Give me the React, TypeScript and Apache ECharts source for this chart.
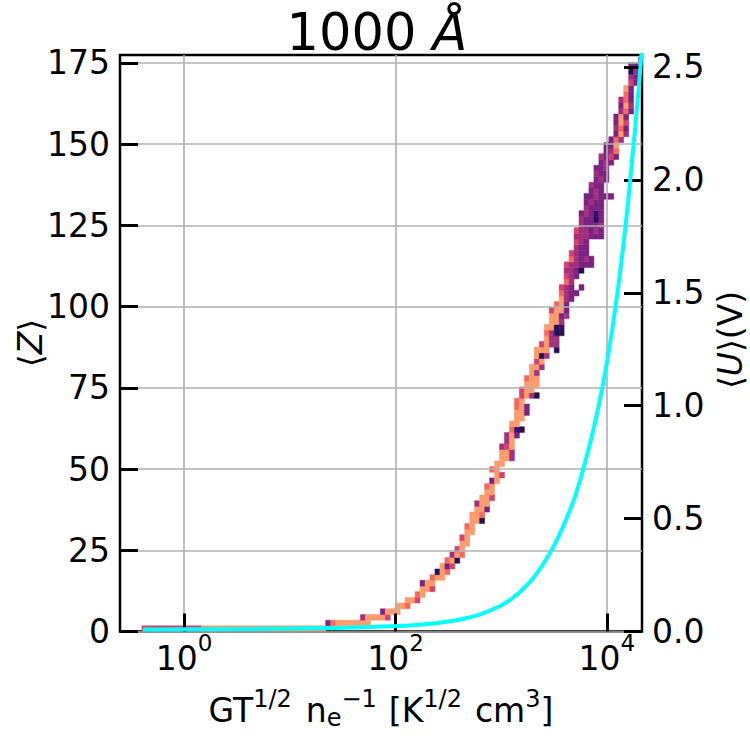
import React, { useEffect, useRef } from 'react';
import * as echarts from 'echarts';

const FONT = 'DejaVu Sans';

const TITLE_NUMBER = '1000 ';
const TITLE_UNIT = 'Å';

// 2-D histogram binning (x binned in log10 space)
const LOGX_MIN = -0.4;
const LOGX_BIN = 0.047;
const Z_BIN = 1.75;

// axis extents (x in log10 units)
const LOGX_RANGE = [-0.607, 4.332];
const Z_RANGE = [0, 177.4];
const U_RANGE = [0, 2.553];

const X_TICKS = [0, 2, 4];
const Z_TICKS = [0, 25, 50, 75, 100, 125, 150, 175];
const U_TICKS = [0, 0.5, 1, 1.5, 2, 2.5];

// magma colour ramp for bin counts 1..9
const MAGMA = ['#0d0829', '#231151', '#3b0f70', '#7a2382', '#a3307e', '#d3436e', '#f4695c', '#fc9b6b', '#feb57c'];

// histogram rows: [z bin, first log-x bin, counts per consecutive bin (0 = empty)]
const HIST_ROWS: number[][] = [
  [0, 0, 6, 6, 6, 6, 6, 6, 6, 6, 6, 6, 6, 6, 8, 8, 8, 8, 8, 8, 8, 8, 8, 8, 8, 8, 8, 8, 8, 8, 8, 8, 8, 8, 8, 8, 8, 8, 8],
  [1, 37, 4, 7, 8, 8, 8, 8, 8, 8, 8],
  [2, 44, 5, 8, 8, 8, 8, 6],
  [3, 48, 4, 8, 8, 8],
  [4, 51, 8, 8, 7],
  [5, 53, 8, 8, 6],
  [6, 55, 7, 8],
  [7, 56, 8, 8, 6],
  [8, 56, 4, 8, 8],
  [9, 58, 7, 8, 8],
  [10, 59, 2, 8, 7],
  [11, 60, 8, 4, 6],
  [12, 61, 7, 8, 2],
  [13, 62, 5, 8, 7],
  [14, 63, 6, 8],
  [15, 64, 8, 8],
  [16, 64, 6, 8],
  [17, 65, 8, 8],
  [18, 65, 7, 8],
  [19, 66, 8, 8, 2],
  [20, 66, 8, 8, 7],
  [21, 67, 8, 8, 4],
  [22, 67, 5, 8, 8],
  [23, 68, 8, 8, 6],
  [24, 69, 8, 8],
  [25, 69, 7, 8],
  [26, 70, 4, 8],
  [27, 71, 8, 6],
  [28, 70, 7, 8],
  [29, 71, 8, 8],
  [30, 72, 8, 8, 5],
  [31, 72, 8, 8, 5],
  [32, 72, 5, 6, 8],
  [33, 73, 5, 8],
  [34, 73, 5, 8, 4],
  [35, 74, 7, 3, 2],
  [36, 74, 8, 8],
  [37, 75, 8, 8],
  [38, 75, 8, 8, 4],
  [39, 75, 7, 8, 4],
  [40, 75, 7, 8],
  [41, 76, 6, 8, 5, 2],
  [42, 76, 6, 8, 8],
  [43, 77, 8, 8, 8],
  [44, 77, 7, 8, 8],
  [45, 78, 8, 5],
  [46, 78, 8, 8, 5],
  [47, 79, 6, 8],
  [48, 79, 8, 2, 5],
  [49, 79, 8, 8, 8, 0, 2],
  [50, 80, 6, 8, 5, 5],
  [51, 81, 8, 5, 5],
  [52, 81, 7, 5, 2, 2],
  [53, 81, 8, 8, 2, 3],
  [54, 82, 8, 8, 5],
  [55, 82, 8, 8, 4, 5],
  [56, 82, 6, 8, 8, 4],
  [57, 83, 7, 8, 4],
  [58, 84, 8, 5, 4],
  [59, 84, 7, 5, 4, 4],
  [60, 84, 6, 5, 4, 0, 4],
  [61, 85, 7, 5],
  [62, 85, 6, 5, 4],
  [63, 85, 5, 5, 4, 2],
  [64, 85, 6, 5, 5, 4, 4, 4],
  [65, 86, 7, 5, 4, 5, 4],
  [66, 86, 6, 5, 4, 4],
  [67, 87, 5, 4, 4],
  [68, 87, 6, 5, 4],
  [69, 87, 5, 5, 5, 4, 4, 4],
  [70, 87, 6, 5, 5, 4, 5, 4],
  [71, 88, 5, 4, 4, 4, 5],
  [72, 88, 5, 4, 4, 2, 4],
  [73, 88, 4, 5, 4, 3, 4],
  [74, 89, 5, 4, 4, 4],
  [75, 89, 4, 5, 4, 4],
  [76, 89, 4, 4, 5, 4, 4, 4],
  [77, 90, 4, 5, 4],
  [78, 90, 5, 4, 4],
  [79, 91, 4, 5, 4],
  [80, 91, 5, 4, 4],
  [81, 91, 4, 4, 5],
  [82, 92, 4, 5, 4],
  [83, 92, 5, 4, 6, 4],
  [84, 93, 4, 5, 7],
  [85, 93, 4, 4, 8],
  [86, 94, 4, 7, 5],
  [87, 95, 4, 8, 5],
  [88, 95, 5, 7, 4],
  [89, 95, 4, 8, 6],
  [90, 95, 4, 8, 4],
  [91, 96, 5, 7, 4],
  [92, 96, 4, 8, 5],
  [93, 96, 5, 7, 4],
  [94, 97, 7, 4],
  [95, 97, 8, 4],
  [96, 98, 6, 4],
  [97, 98, 5, 4],
  [98, 98, 2, 5],
  [99, 98, 4, 4],
  [100, 100, 4],
];

// mean potential <U> (V) against log10 of GT^1/2/ne
const U_LOGX = [-0.39, 0.5, 1.0, 1.5, 2.0, 2.2, 2.4, 2.6, 2.8, 3.0, 3.1, 3.2, 3.3, 3.4, 3.5, 3.6, 3.7, 3.8, 3.9, 4.0, 4.1, 4.2, 4.3, 4.35];
const U_VALUES = [0.009, 0.011, 0.013, 0.017, 0.024, 0.029, 0.038, 0.052, 0.076, 0.115, 0.145, 0.185, 0.235, 0.3, 0.38, 0.48, 0.6, 0.76, 0.95, 1.19, 1.5, 1.9, 2.4, 2.7];

export default function App() {
  const ref = useRef<HTMLDivElement>(null);

  useEffect(() => {
    const chart = echarts.init(ref.current!, null, { renderer: 'svg' });

    const cells: number[][] = [];
    HIST_ROWS.forEach(([j, i0, ...counts]) => {
      counts.forEach((c, k) => {
        if (c > 0) {
          const i = i0 + k;
          cells.push([LOGX_MIN + i * LOGX_BIN, LOGX_MIN + (i + 1) * LOGX_BIN, j * Z_BIN, (j + 1) * Z_BIN, c]);
        }
      });
    });

    const textBase = { fontFamily: FONT, color: '#000' };
    const tickStyle = { show: true, inside: true, length: 18, lineStyle: { color: '#000', width: 3 } };
    const gridLine = { show: true, lineStyle: { color: '#b0b0b0', width: 1.6 } };

    const option: any = {
      animation: false,
      backgroundColor: '#fff',
      grid: {
        left: 120,
        right: 108,
        top: 55,
        bottom: 118.5,
        show: true,
        borderColor: '#000',
        borderWidth: 2.5,
        outerBoundsMode: 'none',
      },
      visualMap: {
        show: false,
        type: 'continuous',
        seriesIndex: 0,
        dimension: 4,
        min: 1,
        max: 9,
        inRange: { color: MAGMA },
      },
      xAxis: {
        type: 'value',
        min: LOGX_RANGE[0],
        max: LOGX_RANGE[1],
        z: 5,
        axisLine: { show: false, onZero: false },
        axisTick: { ...tickStyle, customValues: X_TICKS },
        axisLabel: {
          customValues: X_TICKS,
          margin: 0,
          formatter: (v: number) => `{b|10}{s|${v}}`,
          rich: {
            b: { ...textBase, fontSize: 33 },
            s: { ...textBase, fontSize: 23, padding: [0, 0, 30, 0] },
          },
        },
        splitLine: gridLine,
      },
      yAxis: [
        {
          type: 'value',
          position: 'left',
          min: Z_RANGE[0],
          max: Z_RANGE[1],
          z: 5,
          axisLine: { show: false, onZero: false },
          axisTick: { ...tickStyle, customValues: Z_TICKS },
          axisLabel: { customValues: Z_TICKS, margin: 10, fontSize: 33, ...textBase },
          splitLine: gridLine,
        },
        {
          type: 'value',
          position: 'right',
          min: U_RANGE[0],
          max: U_RANGE[1],
          z: 5,
          axisLine: { show: false, onZero: false },
          axisTick: { ...tickStyle, customValues: U_TICKS },
          axisLabel: {
            customValues: U_TICKS,
            margin: 10,
            fontSize: 33,
            ...textBase,
            formatter: (v: number) => v.toFixed(1),
          },
          splitLine: { show: false },
        },
      ],
      series: [
        {
          type: 'custom',
          z: 2,
          clip: true,
          data: cells,
          encode: { x: [0, 1], y: [2, 3] },
          renderItem: (params: any, api: any) => {
            const p0 = api.coord([api.value(0), api.value(3)]);
            const p1 = api.coord([api.value(1), api.value(2)]);
            const color = api.visual('color');
            return {
              type: 'rect',
              shape: { x: p0[0], y: p0[1], width: p1[0] - p0[0], height: p1[1] - p0[1] },
              style: { fill: color, stroke: color, lineWidth: 0.5 },
            };
          },
        },
        {
          type: 'line',
          yAxisIndex: 1,
          z: 6,
          showSymbol: false,
          smooth: 0.25,
          clip: true,
          data: U_LOGX.map((x, k) => [x, U_VALUES[k]]),
          lineStyle: { color: '#00ffff', width: 4 },
        },
      ],
      graphic: [
        {
          type: 'text',
          x: 377,
          y: 32,
          style: {
            text: `{n|${TITLE_NUMBER}}{a|${TITLE_UNIT}}`,
            align: 'center',
            verticalAlign: 'middle',
            rich: {
              n: { ...textBase, fontSize: 51 },
              a: { ...textBase, fontSize: 51, fontStyle: 'italic' },
            },
          },
        },
        {
          type: 'text',
          x: 381,
          y: 710,
          style: {
            text: '{r|GT}{p|1/2}{n|n}{e|e}{p|−1}{g|[K}{p|1/2}{c|cm}{p|3}{r|]}',
            align: 'center',
            verticalAlign: 'middle',
            rich: {
              r: { ...textBase, fontSize: 33 },
              n: { ...textBase, fontSize: 33, padding: [0, 0, 0, 14] },
              g: { ...textBase, fontSize: 33, padding: [0, 0, 0, 12] },
              c: { ...textBase, fontSize: 33, padding: [0, 0, 0, 13] },
              p: { ...textBase, fontSize: 24, padding: [0, 0, 22, 0] },
              e: { ...textBase, fontSize: 24, padding: [16, 0, 0, 0] },
            },
          },
        },
        {
          type: 'text',
          x: 30,
          y: 343,
          rotation: Math.PI / 2,
          style: {
            text: '{r|⟨}{i|Z}{r|⟩}',
            align: 'center',
            verticalAlign: 'middle',
            rich: {
              r: { ...textBase, fontSize: 33 },
              i: { ...textBase, fontSize: 33, fontStyle: 'italic' },
            },
          },
        },
        {
          type: 'text',
          x: 730,
          y: 340,
          rotation: Math.PI / 2,
          style: {
            text: '{r|⟨}{i|U}{r|⟩(V)}',
            align: 'center',
            verticalAlign: 'middle',
            rich: {
              r: { ...textBase, fontSize: 33 },
              i: { ...textBase, fontSize: 33, fontStyle: 'italic' },
            },
          },
        },
      ],
    };

    chart.setOption(option);
    return () => chart.dispose();
  }, []);

  return <div ref={ref} style={{ position: 'fixed', left: 0, top: 0, width: 750, height: 750 }} />;
}
